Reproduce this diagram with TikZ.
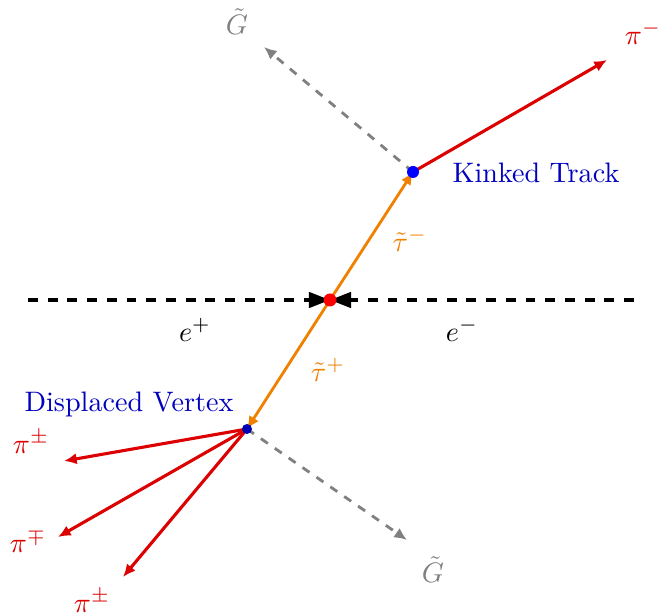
\documentclass[tikz,border=0pt]{standalone}
\usetikzlibrary{arrows.meta}
\definecolor{pired}{RGB}{220,0,0}
\definecolor{stau}{RGB}{240,128,0}
\definecolor{lblue}{RGB}{0,0,190}
\definecolor{ggray}{RGB}{128,128,128}
\begin{document}
\begin{tikzpicture}[x=0.355pt,y=-0.355pt,
  beam/.style={line width=1.1pt,dash pattern=on 3.5pt off 3.5pt,-{Triangle[length=7.5pt,width=5.5pt]}},
  pion/.style={pired,line width=1.1pt,-{Latex[length=4.5pt,width=4pt]}},
  gravitino/.style={ggray,line width=1pt,dash pattern=on 3pt off 3pt,-{Latex[length=4.5pt,width=4pt]}},
  stauline/.style={stau,line width=1pt,-{Latex[length=4.5pt,width=4pt]}},
  lbl/.style={inner sep=0pt}]
\useasboundingbox (0,0) rectangle (659,614);
\coordinate (c) at (330,300);
\coordinate (k) at (413,172);
\coordinate (v) at (247,429);
\coordinate (bl) at (28,300);
\coordinate (br) at (634,300);
\coordinate (pim) at (607,60);
\coordinate (g1) at (264,47);
\coordinate (g2) at (407,540);
\coordinate (p1) at (64,461);
\coordinate (p2) at (58,537);
\coordinate (p3) at (123,577);
% beams
\draw[beam] (bl) -- (c);
\draw[beam] (br) -- (c);
% staus
\draw[stauline] (c) -- (k);
\draw[stauline] (c) -- (v);
% decays
\draw[gravitino] (k) -- (g1);
\draw[pion] (k) -- (pim);
\draw[gravitino] (v) -- (g2);
\draw[pion] (v) -- (p1);
\draw[pion] (v) -- (p2);
\draw[pion] (v) -- (p3);
% dots
\fill[red] (c) circle (6.5);
\fill[blue] (k) circle (6);
\fill[blue!70!black] (v) circle (5);
% labels
\node[lbl] (ep) at (195,330) {$e^+$};
\node[lbl] (em) at (462,330) {$e^-$};
\node[lbl,text=stau] (tm) at (410,240) {$\tilde\tau^-$};
\node[lbl,text=stau] (tp) at (328,370) {$\tilde\tau^+$};
\node[lbl,text=pired] (lpim) at (643,33) {$\pi^-$};
\node[lbl,text=ggray] (lg1) at (237,22) {$\tilde G$};
\node[lbl,text=ggray] (lg2) at (433,570) {$\tilde G$};
\node[lbl,text=pired] (lp1) at (31,442) {$\pi^\pm$};
\node[lbl,text=pired] (lp2) at (28,541) {$\pi^\mp$};
\node[lbl,text=pired] (lp3) at (92,601) {$\pi^\pm$};
\node[lbl,text=lblue] (kt) at (536,173) {Kinked Track};
\node[lbl,text=lblue] (dv) at (129,404) {Displaced Vertex};
\end{tikzpicture}
\end{document}
